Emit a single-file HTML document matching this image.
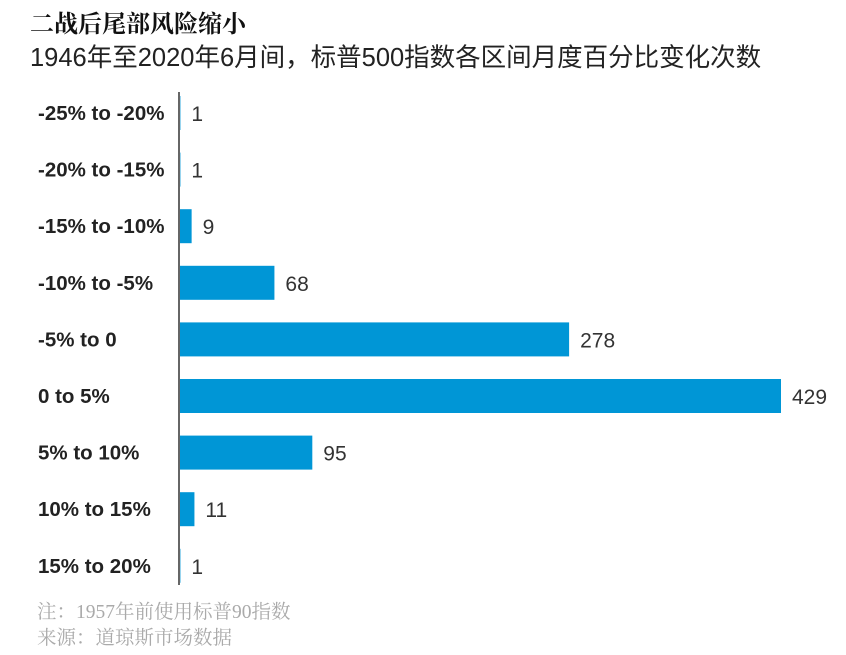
<!DOCTYPE html>
<html><head><meta charset="utf-8"><style>
body{margin:0;background:#fff;width:846px;height:655px;overflow:hidden;position:relative;font-family:"Liberation Sans","Noto Sans CJK SC",sans-serif}
.t{position:absolute;white-space:nowrap}
</style></head><body>
<div class="t" style="left:30px;top:4px;font-size:24px;font-weight:bold;font-family:'Liberation Serif','Noto Serif CJK SC',serif;color:#111">二战后尾部风险缩小</div>
<div class="t" style="left:30px;top:37px;font-size:25.5px;color:#222;font-family:'Liberation Sans','Noto Sans CJK SC',sans-serif">1946年至2020年6月间，标普500指数各区间月度百分比变化次数</div>
<svg id="c" width="846" height="655" style="position:absolute;left:0;top:0"></svg>
<div class="t" style="left:37px;top:596px;font-size:19.5px;color:#aaa;font-family:'Liberation Serif','Noto Serif CJK SC',serif">注：1957年前使用标普90指数</div>
<div class="t" style="left:37px;top:622px;font-size:19.5px;color:#aaa;font-family:'Liberation Serif','Noto Serif CJK SC',serif">来源：道琼斯市场数据</div>
<script>
const categories=["-25% to -20%","-20% to -15%","-15% to -10%","-10% to -5%","-5% to 0","0 to 5%","5% to 10%","10% to 15%","15% to 20%"];
const values=[1,1,9,68,278,429,95,11,1];
const NS="http://www.w3.org/2000/svg";
const svg=document.getElementById('c');
const x0=179,pxPer=(781-179)/429;
const xS=v=>x0+v*pxPer;
const yC=i=>113+i*56.6;
function mk(t,a){const e=document.createElementNS(NS,t);for(const k in a)e.setAttribute(k,a[k]);svg.appendChild(e);return e;}
categories.forEach((c,i)=>{
  const l=mk('text',{x:38,y:yC(i)+7,'font-size':20.5,'font-weight':'bold',fill:'#222','font-family':'Liberation Sans, sans-serif'});
  l.textContent=c;
  
  
  const b=mk('rect',{x:x0,y:yC(i)-17,width:Math.max(0,xS(values[i])-x0),height:34,fill:'#0096d6'});
  
  
  const v=mk('text',{x:xS(values[i])+11,y:yC(i)+8,'font-size':21,fill:'#333','font-family':'Liberation Sans, sans-serif'});
  v.textContent=values[i];
  
  
});
const ax=mk('line',{x1:x0,x2:x0,y1:92,y2:585,stroke:'#666','stroke-width':2});


</script>
</body></html>
